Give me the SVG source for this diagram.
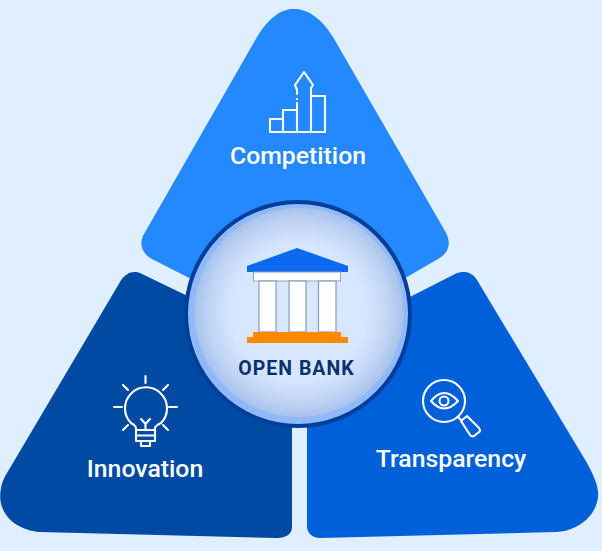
<svg xmlns="http://www.w3.org/2000/svg" width="602" height="551" viewBox="0 0 602 551">
<defs>
<radialGradient id="disc" cx="50%" cy="50%" r="50%"><stop offset="0" stop-color="#d8e8ff"/><stop offset="0.65" stop-color="#d6e6fe"/><stop offset="0.88" stop-color="#bdd2f3"/><stop offset="1" stop-color="#a9c3ec"/></radialGradient>
</defs>
<style>
text{font-family:Roboto,"Liberation Sans",sans-serif;fill:#fff;font-size:24.800px;font-weight:500;text-anchor:middle}
.i{fill:none;stroke:#fff;stroke-width:2.100;stroke-linecap:round;stroke-linejoin:round}
.c{fill:#fff;stroke:#8fa3c0;stroke-width:1.300}
</style>
<rect width="602" height="551" fill="#dfefff"/>
<g id="competition">
<path d="M257 37C270 16 282 9 294 9C306 9 320 16 333 37L445 231C452 243 449 253 438 259L400 281H195L152 259C141 253 139 243 144 234Z" fill="#2488ff"/>
<path class="i" d="M270 132V119H283M270 132H325V96H311M283 132V110H297M297 132V103M297 99V99.200M297 94V90L295 85L304 72L313 85L311 88V132"/>
<text x="298" y="164">Competition</text>
</g>
<g id="innovation">
<path d="M120 282C126 272 134 270 142 274L200 302L292 400V527C292 534 286 538 277 538L40 532C14 530 -4 512 1 488C2 482 4 478 7 473Z" fill="#004aa3"/>
<g class="i"><path d="M136 430V428Q136 426 131 423A21 21 0 1 1 161 423Q155 426 155 428V430M136 430H155V441H136ZM136 435.500H155M141 441V446H150V441M145.500 430V424L141 419M145.500 424L150 419M145.500 376V383M123 385L128 390M168 385L163 390M114 407H122M169 407H177M123 430L128 425M168 430L163 425"/></g>
<text x="145" y="477">Innovation</text>
</g>
<g id="transparency">
<path d="M455 274C464 270 472 272 477 280L587 463C594 476 599 487 598 497C596 516 578 531 556 532L320 538C312 538 307 533 307 526V400L400 302Z" fill="#0060d9"/>
<g class="i"><circle cx="444" cy="401" r="21"/><path d="M431 401Q444 385 458 401Q444 416 431 401Z"/><circle cx="444" cy="401" r="4.500"/><path d="M458 417L462 421M461 421L467 416L479 428Q481 431 479 432L474 436Q472 437 470 435Z"/></g>
<text x="451" y="467">Transparency</text>
</g>
<g id="open-bank">
<circle cx="298" cy="314" r="112" fill="#8fb9fb" stroke="#003f99" stroke-width="4"/>
<circle cx="299" cy="312.500" r="104.500" fill="url(#disc)"/>
<path d="M247 272V266L297 248L348 266V272Z" fill="#0d6af0"/>
<rect x="253.500" y="272" width="87" height="9" fill="#fff" stroke="#8fa3c0"/>
<rect x="259" y="281" width="17" height="51" class="c"/><rect x="289" y="281" width="17" height="51" class="c"/><rect x="318.500" y="281" width="17.500" height="51" class="c"/>
<path d="M253 332H341V337H348V343H247V337H253Z" fill="#ff8a00"/>
<text x="296.500" y="375" style="fill:#0a2f6f;font-size:19.500px;font-weight:700;letter-spacing:1px">OPEN BANK</text>
</g>
<g id="connectors"/>
</svg>
